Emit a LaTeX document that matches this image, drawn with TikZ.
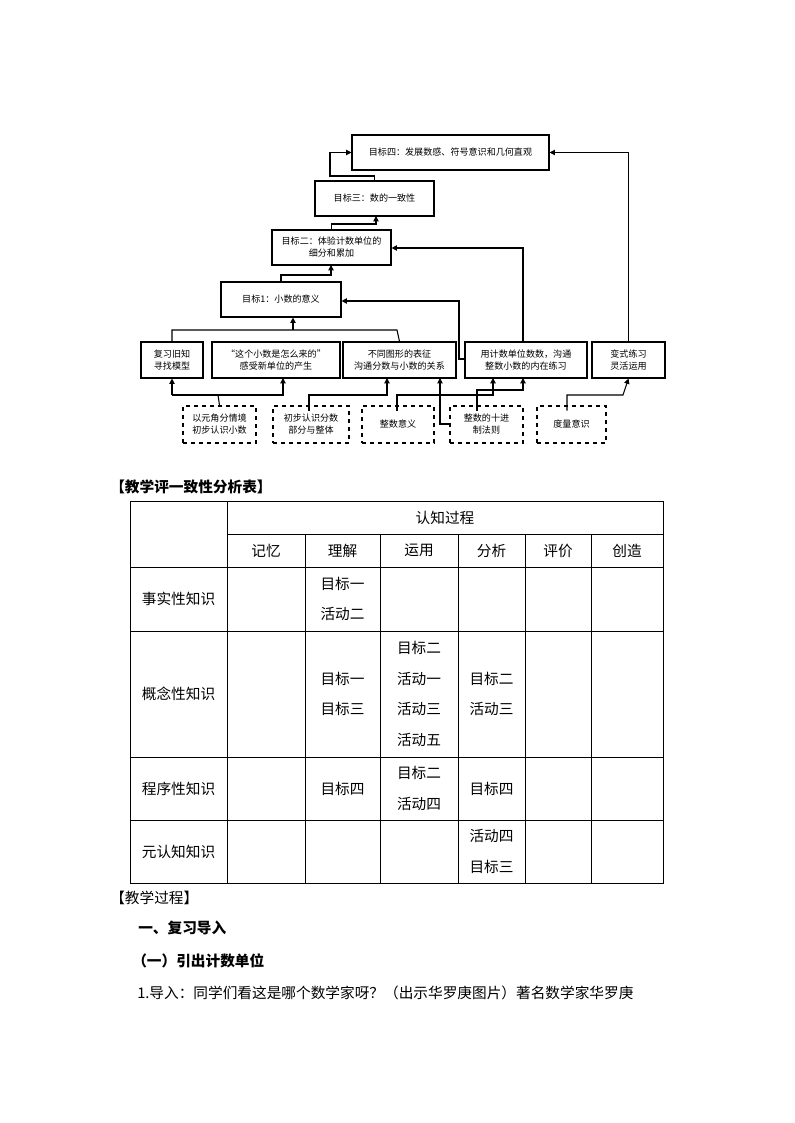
\documentclass[tikz,border=0pt]{standalone}
\usepackage{fontspec}
\setmainfont{Noto Sans CJK SC}
\usetikzlibrary{arrows.meta}
\tikzset{
  font=\fontsize{6.8}{9}\selectfont,
  >={Triangle[length=4pt,width=4pt]},
  % goal box
  goal/.style={draw, thick, align=center, inner sep=0pt},
  % activity box
  act/.style={goal},
  % knowledge box
  know/.style={goal, dashed},
  % connector
  link/.style={thick, ->},
  cell/.style={align=center, font=\fontsize{11}{23}\selectfont},
  para/.style={anchor=west, inner sep=0pt, font=\fontsize{11}{13}\selectfont},
}
\newcommand{\boxat}[5]{\node[#1, minimum width=#4*0.75pt, minimum height=#5*0.75pt] (#2) at (#3) {};}
\begin{document}
\begin{tikzpicture}[x=0.75pt, y=-0.75pt]
  \useasboundingbox (0,0) rectangle (794,1123);
  % goals
  \node[goal, minimum width=147.75pt, minimum height=26.25pt] (g4) at (450.5,152.5) {目标四：发展数感、符号意识和几何直观};
  \node[goal, minimum width=89.25pt, minimum height=26.25pt] (g3) at (374.5,198.5) {目标三：数的一致性};
  \node[goal, minimum width=89.25pt, minimum height=26.25pt] (g2) at (331.5,247.5) {目标二：体验计数单位的\\细分和累加};
  \node[goal, minimum width=90pt, minimum height=26.25pt] (g1) at (281,299.5) {目标1：小数的意义};
  % activities
  \node[act, minimum width=46.5pt, minimum height=27pt] (a1) at (172,360) {复习旧知\\寻找模型};
  \node[act, minimum width=96pt, minimum height=27pt] (a2) at (276,360) {“这个小数是怎么来的”\\感受新单位的产生};
  \node[act, minimum width=84.75pt, minimum height=27pt] (a3) at (399.5,360) {不同图形的表征\\沟通分数与小数的关系};
  \node[act, minimum width=91.5pt, minimum height=27pt] (a4) at (526,360) {用计数单位数数，沟通\\整数小数的内在练习};
  \node[act, minimum width=54.75pt, minimum height=27pt] (a5) at (628.5,360) {变式练习\\灵活运用};
  % knowledge
  \node[know, minimum width=54.75pt, minimum height=27.75pt] (k1) at (219.5,424.5) {以元角分情境\\初步认识小数};
  \node[know, minimum width=57pt, minimum height=27.75pt] (k2) at (311,424.5) {初步认识分数\\部分与整体};
  \node[know, minimum width=54pt, minimum height=27.75pt] (k3) at (398,424.5) {整数意义};
  \node[know, minimum width=54.75pt, minimum height=27.75pt] (k4) at (486.5,424.5) {整数的十进\\制法则};
  \node[know, minimum width=51.75pt, minimum height=27.75pt] (k5) at (571.5,424.5) {度量意识};
  % goal chain
  \draw[link] (g3.north) ++(0,0) |- (330,176) |- (g4.west);
  \draw[link] (g2.north) |- (376,224) -- (376,216);
  \draw[link] (g1.north) |- (331,275) -- (331,265);
  \draw[link] (a4.west |- 0,359) -| (459,301) -- (g1.east |- 0,301);
  \draw[link] (523,342) |- (g2.east |- 0,248);
  \draw[link] (a5.north) |- (g4.east);
  % activities to goal 1
  \draw[thick] (a1.north) |- (397,330) -- (a3.north);
  \draw[link] (293,330) -- (g1.south -| 293,0);
  % knowledge to activities
  \draw[thick] (k1.north) -- (218,395);
  \draw[link] (172,395) -| (a1.south);
  \draw[link] (172,395) -| (283,378);
  \draw[link] (309,410.5) |- (387,395) -- (387,378);
  \draw[link] (397,410.5) |- (493,395) -- (493,378);
  \draw[link] (477,410.5) |- (523,390) -- (523,378);
  \draw[link] (k4.west |- 0,424) -| (440,378);
  \draw[link] (567,410.5) |- (623,395) -- (a5.south);
  % headings
  \node[para, font=\fontsize{11}{13}\selectfont\bfseries] (t1) at (110,487) {【教学评一致性分析表】};
  % table grid
  \draw (130,501) rectangle (663,883);
  \foreach \y in {567,631,757,820} \draw (130,\y) -- (663,\y);
  \draw (227,534) -- (663,534);
  \draw (227,501) -- (227,883);
  \foreach \x in {305,380,458,525,591} \draw (\x,534) -- (\x,883);
  \node[cell] (h0) at (445,518) {认知过程};
  \foreach \x/\t in {266/记忆,342.5/理解,419/运用,491.5/分析,558/评价,627/创造}
    \node[cell] at (\x,550.5) {\t};
  \foreach \y/\t in {599/事实性知识,694/概念性知识,788.5/程序性知识,851.5/元认知知识}
    \node[cell] at (178.5,\y) {\t};
  \node[cell] (c11) at (342.5,599) {目标一\\活动二};
  \node[cell] (c21) at (342.5,694) {目标一\\目标三};
  \node[cell] (c22) at (419,694) {目标二\\活动一\\活动三\\活动五};
  \node[cell] (c23) at (491.5,694) {目标二\\活动三};
  \node[cell] (c31) at (342.5,788.5) {目标四};
  \node[cell] (c32) at (419,788.5) {目标二\\活动四};
  \node[cell] (c33) at (491.5,788.5) {目标四};
  \node[cell] (c43) at (491.5,851.5) {活动四\\目标三};
  % text below
  \node[para] (t2) at (110,898) {【教学过程】};
  \node[para, font=\fontsize{11}{13}\selectfont\bfseries] (t3) at (138,928) {一、复习导入};
  \node[para, font=\fontsize{11}{13}\selectfont\bfseries] (t4) at (132,961) {（一）引出计数单位};
  \node[para] (t5) at (137,993) {1.导入：同学们看这是哪个数学家呀？（出示华罗庚图片）著名数学家华罗庚};
\end{tikzpicture}
\end{document}
